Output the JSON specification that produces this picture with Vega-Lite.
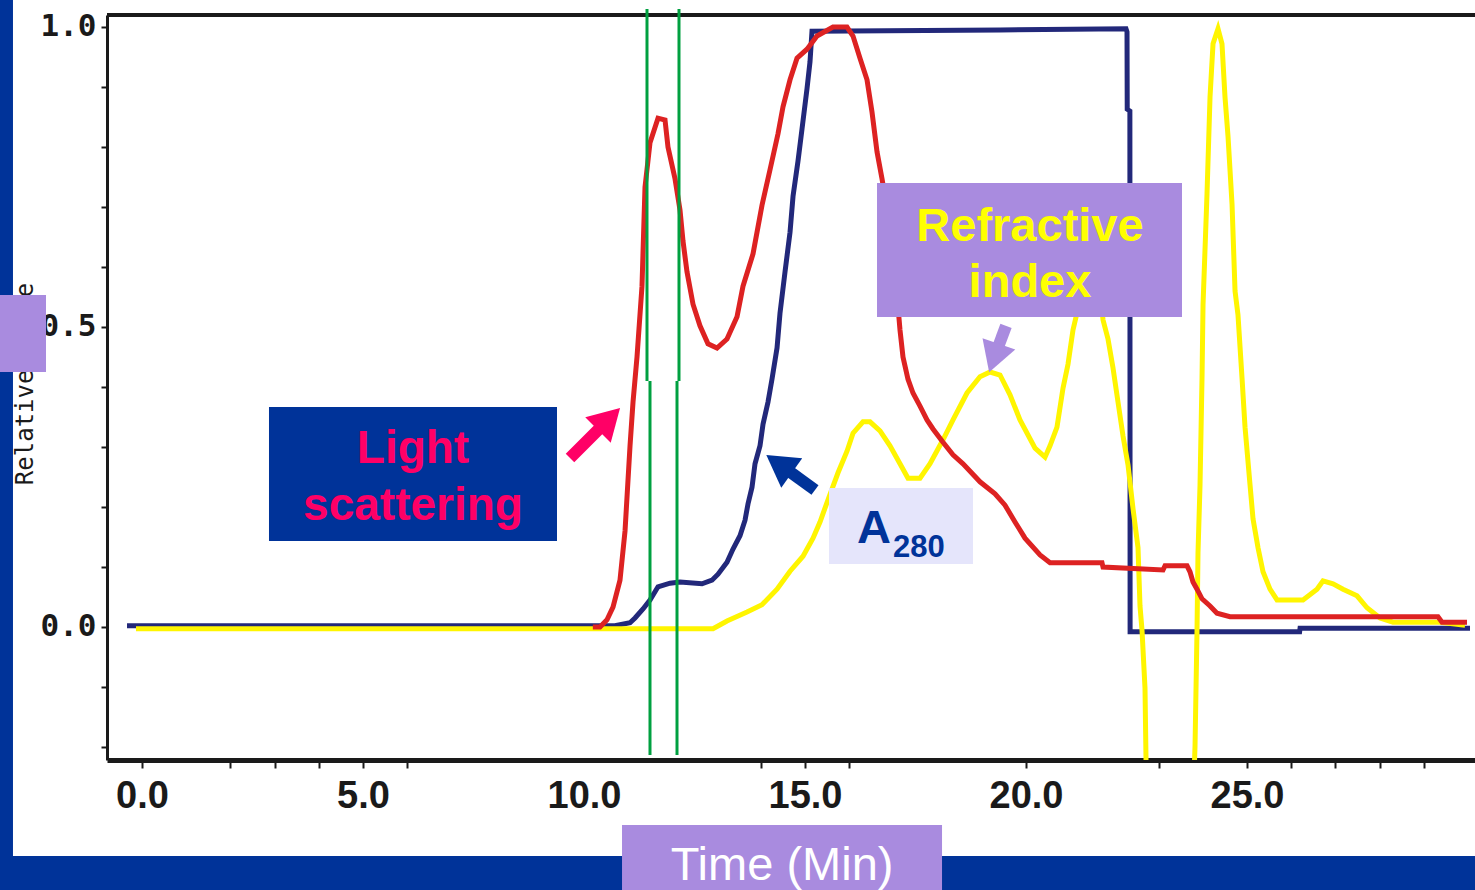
{
  "$schema": "https://vega.github.io/schema/vega-lite/v6.json",
  "width": 1368,
  "height": 745,
  "autosize": {"type": "none"},
  "padding": {"left": 107, "top": 15, "right": 0, "bottom": 130},
  "background": "white",
  "config": {"view": {"stroke": null}},
  "resolve": {"scale": {"color": "independent"}},
  "datasets": {
    "red": [
      {"t": 10.2, "v": 0}, {"t": 10.362, "v": 0}, {"t": 10.52, "v": 0.012}, {"t": 10.656, "v": 0.033}, {"t": 10.814, "v": 0.078},
      {"t": 10.928, "v": 0.16}, {"t": 11.041, "v": 0.302}, {"t": 11.109, "v": 0.375}, {"t": 11.199, "v": 0.45}, {"t": 11.312, "v": 0.568},
      {"t": 11.38, "v": 0.733}, {"t": 11.493, "v": 0.807}, {"t": 11.674, "v": 0.848}, {"t": 11.833, "v": 0.845}, {"t": 11.9, "v": 0.8},
      {"t": 12.059, "v": 0.747}, {"t": 12.172, "v": 0.695}, {"t": 12.24, "v": 0.643}, {"t": 12.33, "v": 0.592}, {"t": 12.466, "v": 0.538},
      {"t": 12.624, "v": 0.502}, {"t": 12.805, "v": 0.472}, {"t": 13.009, "v": 0.465}, {"t": 13.235, "v": 0.48}, {"t": 13.462, "v": 0.517},
      {"t": 13.597, "v": 0.568}, {"t": 13.824, "v": 0.622}, {"t": 14.027, "v": 0.703}, {"t": 14.208, "v": 0.762}, {"t": 14.389, "v": 0.822},
      {"t": 14.502, "v": 0.867}, {"t": 14.661, "v": 0.912}, {"t": 14.819, "v": 0.948}, {"t": 15.045, "v": 0.963}, {"t": 15.271, "v": 0.985},
      {"t": 15.633, "v": 1.0}, {"t": 15.95, "v": 1.0}, {"t": 16.086, "v": 0.985}, {"t": 16.244, "v": 0.948}, {"t": 16.403, "v": 0.912},
      {"t": 16.516, "v": 0.858}, {"t": 16.629, "v": 0.792}, {"t": 16.742, "v": 0.747}, {"t": 16.878, "v": 0.687}, {"t": 17.014, "v": 0.612},
      {"t": 17.149, "v": 0.495}, {"t": 17.217, "v": 0.45}, {"t": 17.33, "v": 0.413}, {"t": 17.443, "v": 0.39}, {"t": 17.602, "v": 0.368},
      {"t": 17.76, "v": 0.345}, {"t": 17.896, "v": 0.33}, {"t": 18.122, "v": 0.308}, {"t": 18.348, "v": 0.287}, {"t": 18.575, "v": 0.272},
      {"t": 18.959, "v": 0.242}, {"t": 19.299, "v": 0.222}, {"t": 19.525, "v": 0.203}, {"t": 19.751, "v": 0.175}, {"t": 19.977, "v": 0.148},
      {"t": 20.317, "v": 0.12}, {"t": 20.543, "v": 0.107}, {"t": 21.719, "v": 0.107}, {"t": 21.742, "v": 0.1}, {"t": 23.1, "v": 0.095},
      {"t": 23.145, "v": 0.102}, {"t": 23.643, "v": 0.102}, {"t": 23.71, "v": 0.092}, {"t": 23.778, "v": 0.075}, {"t": 23.869, "v": 0.063},
      {"t": 23.982, "v": 0.047}, {"t": 24.163, "v": 0.035}, {"t": 24.321, "v": 0.023}, {"t": 24.615, "v": 0.017}, {"t": 29.321, "v": 0.017},
      {"t": 29.412, "v": 0.008}, {"t": 29.977, "v": 0.008}
    ],
    "blue": [
      {"t": -0.339, "v": 0.002}, {"t": 10.7, "v": 0.002}, {"t": 11.041, "v": 0.007}, {"t": 11.154, "v": 0.015}, {"t": 11.335, "v": 0.03},
      {"t": 11.493, "v": 0.045}, {"t": 11.674, "v": 0.067}, {"t": 11.946, "v": 0.073}, {"t": 12.172, "v": 0.075}, {"t": 12.67, "v": 0.072},
      {"t": 12.896, "v": 0.078}, {"t": 13.032, "v": 0.088}, {"t": 13.235, "v": 0.108}, {"t": 13.371, "v": 0.13}, {"t": 13.529, "v": 0.152},
      {"t": 13.643, "v": 0.178}, {"t": 13.71, "v": 0.205}, {"t": 13.801, "v": 0.233}, {"t": 13.869, "v": 0.272}, {"t": 13.982, "v": 0.302},
      {"t": 14.05, "v": 0.338}, {"t": 14.163, "v": 0.375}, {"t": 14.253, "v": 0.413}, {"t": 14.367, "v": 0.465}, {"t": 14.434, "v": 0.523},
      {"t": 14.548, "v": 0.592}, {"t": 14.661, "v": 0.658}, {"t": 14.729, "v": 0.718}, {"t": 14.842, "v": 0.777}, {"t": 14.932, "v": 0.83},
      {"t": 15.045, "v": 0.897}, {"t": 15.113, "v": 0.942}, {"t": 15.158, "v": 0.993}, {"t": 19.412, "v": 0.995}, {"t": 22.262, "v": 0.997},
      {"t": 22.285, "v": 0.992}, {"t": 22.29, "v": 0.863}, {"t": 22.35, "v": 0.86}, {"t": 22.355, "v": -0.008}, {"t": 26.19, "v": -0.008},
      {"t": 26.2, "v": -0.002}, {"t": 30.045, "v": -0.002}
    ],
    "yellow": [
      {"t": -0.136, "v": -0.003}, {"t": 12.919, "v": -0.003}, {"t": 13.235, "v": 0.01}, {"t": 13.688, "v": 0.025}, {"t": 14.027, "v": 0.037},
      {"t": 14.367, "v": 0.063}, {"t": 14.661, "v": 0.093}, {"t": 14.955, "v": 0.118}, {"t": 15.181, "v": 0.148}, {"t": 15.339, "v": 0.175},
      {"t": 15.52, "v": 0.212}, {"t": 15.747, "v": 0.257}, {"t": 15.95, "v": 0.293}, {"t": 16.086, "v": 0.323}, {"t": 16.312, "v": 0.342},
      {"t": 16.471, "v": 0.342}, {"t": 16.697, "v": 0.327}, {"t": 16.923, "v": 0.302}, {"t": 17.149, "v": 0.272}, {"t": 17.33, "v": 0.248},
      {"t": 17.602, "v": 0.248}, {"t": 17.828, "v": 0.272}, {"t": 18.122, "v": 0.312}, {"t": 18.348, "v": 0.345}, {"t": 18.665, "v": 0.39},
      {"t": 18.959, "v": 0.417}, {"t": 19.186, "v": 0.425}, {"t": 19.412, "v": 0.42}, {"t": 19.638, "v": 0.387}, {"t": 19.864, "v": 0.345},
      {"t": 20.204, "v": 0.298}, {"t": 20.43, "v": 0.283}, {"t": 20.543, "v": 0.302}, {"t": 20.701, "v": 0.333}, {"t": 20.837, "v": 0.398},
      {"t": 20.95, "v": 0.438}, {"t": 21.063, "v": 0.495}, {"t": 21.222, "v": 0.545}, {"t": 21.403, "v": 0.587}, {"t": 21.561, "v": 0.595},
      {"t": 21.674, "v": 0.562}, {"t": 21.742, "v": 0.512}, {"t": 21.855, "v": 0.48}, {"t": 21.968, "v": 0.432}, {"t": 22.081, "v": 0.375},
      {"t": 22.195, "v": 0.318}, {"t": 22.308, "v": 0.27}, {"t": 22.421, "v": 0.197}, {"t": 22.534, "v": 0.132}, {"t": 22.579, "v": 0.035},
      {"t": 22.624, "v": -0.005}, {"t": 22.692, "v": -0.102}, {"t": 22.715, "v": -0.222}, {"t": 22.805, "v": -0.455}, {"t": 23.71, "v": -0.455},
      {"t": 23.824, "v": -0.198}, {"t": 23.869, "v": -0.005}, {"t": 23.891, "v": 0.123}, {"t": 23.937, "v": 0.237}, {"t": 23.982, "v": 0.415},
      {"t": 24.005, "v": 0.537}, {"t": 24.095, "v": 0.722}, {"t": 24.163, "v": 0.883}, {"t": 24.231, "v": 0.972}, {"t": 24.344, "v": 0.997},
      {"t": 24.434, "v": 0.972}, {"t": 24.502, "v": 0.883}, {"t": 24.57, "v": 0.818}, {"t": 24.661, "v": 0.705}, {"t": 24.729, "v": 0.56},
      {"t": 24.796, "v": 0.52}, {"t": 24.887, "v": 0.415}, {"t": 24.955, "v": 0.333}, {"t": 25.068, "v": 0.237}, {"t": 25.136, "v": 0.18},
      {"t": 25.249, "v": 0.132}, {"t": 25.362, "v": 0.092}, {"t": 25.52, "v": 0.063}, {"t": 25.679, "v": 0.045}, {"t": 26.267, "v": 0.045},
      {"t": 26.584, "v": 0.063}, {"t": 26.719, "v": 0.077}, {"t": 26.946, "v": 0.072}, {"t": 27.172, "v": 0.063}, {"t": 27.489, "v": 0.052},
      {"t": 27.715, "v": 0.032}, {"t": 28.009, "v": 0.015}, {"t": 28.303, "v": 0.008}, {"t": 29.367, "v": 0.008}, {"t": 29.932, "v": 0.003}
    ],
    "green": [
      {"t": 11.425, "v": 1.03, "v2": 0.41},
      {"t": 12.149, "v": 1.03, "v2": 0.41},
      {"t": 11.493, "v": 0.41, "v2": -0.2133},
      {"t": 12.104, "v": 0.41, "v2": -0.2133}
    ],
    "boxes": [
      {"name": "leftstrip", "t": -3.5, "t2": -2.919, "v": 1.1, "v2": -0.5},
      {"name": "bottomstrip", "t": -3.5, "t2": 31, "v": -0.3817, "v2": -0.5},
      {"name": "ls", "t": 2.873, "t2": 9.389, "v": 0.3667, "v2": 0.1433},
      {"name": "a280", "t": 15.543, "t2": 18.801, "v": 0.2317, "v2": 0.105},
      {"name": "ri", "t": 16.629, "t2": 23.529, "v": 0.74, "v2": 0.5167},
      {"name": "ycover", "t": -3.213, "t2": -2.172, "v": 0.5533, "v2": 0.425},
      {"name": "xtitle", "t": 10.86, "t2": 18.1, "v": -0.33, "v2": -0.5}
    ],
    "arrows": [
      {"name": "ls", "t": 9.683, "v": 0.2817, "t2": 10.566, "v2": 0.3467},
      {"name": "a280", "t": 15.226, "v": 0.2283, "t2": 14.412, "v2": 0.2717},
      {"name": "ri", "t": 19.548, "v": 0.5017, "t2": 19.276, "v2": 0.4483}
    ]
  },
  "encoding": {
    "x": {
      "field": "t", "type": "quantitative",
      "scale": {"domain": [-0.7919, 30.158], "nice": false, "zero": false},
      "axis": {
        "title": null, "grid": false,
        "values": [0, 2, 3, 4, 5, 6, 10, 14, 15, 16, 20, 23, 25, 26, 27, 28, 29],
        "labelExpr": "datum.value % 5 === 0 ? format(datum.value, '.1f') : ''",
        "domainColor": "#1a1a1a", "domainWidth": 5,
        "tickColor": "#1a1a1a", "tickWidth": 2, "tickSize": 8,
        "tickOpacity": {"condition": {"test": "datum.value === 10", "value": 0}, "value": 1},
        "labelFont": "Liberation Sans", "labelFontSize": 38, "labelFontWeight": "bold",
        "labelColor": "#1a1a1a", "labelPadding": 9, "labelBaseline": "top",
        "labelFlush": false, "labelOverlap": false
      }
    },
    "y": {
      "field": "v", "type": "quantitative",
      "scale": {"domain": [-0.2217, 1.02], "nice": false, "zero": false},
      "axis": {
        "title": null, "grid": false,
        "values": [-0.2, -0.1, 0, 0.1, 0.2, 0.3, 0.4, 0.5, 0.6, 0.7, 0.8, 0.9, 1],
        "labelExpr": "(datum.value === 0 || datum.value === 0.5 || datum.value === 1) ? format(datum.value, '.1f') : ''",
        "domainColor": "#1a1a1a", "domainWidth": 3,
        "tickColor": "#1a1a1a", "tickWidth": 2, "tickSize": 6,
        "labelFont": "DejaVu Sans Mono", "labelFontSize": 31, "labelFontWeight": "bold",
        "labelColor": "#1a1a1a", "labelPadding": 5, "labelBaseline": "middle",
        "labelFlush": false, "labelOverlap": false
      }
    }
  },
  "layer": [
    {
      "data": {"values": [{"t": -0.7919, "t2": 30.158, "v": 1.02}]},
      "mark": {"type": "rule", "color": "#1a1a1a", "strokeWidth": 4, "clip": false},
      "encoding": {"x2": {"field": "t2"}}
    },
    {
      "data": {"name": "blue"},
      "mark": {"type": "line", "color": "#22287A", "strokeWidth": 5, "clip": true, "interpolate": "linear"},
      "encoding": {"order": {"value": null}}
    },
    {
      "data": {"name": "yellow"},
      "mark": {"type": "line", "color": "#FFF500", "strokeWidth": 5, "clip": true, "interpolate": "linear"},
      "encoding": {"order": {"value": null}}
    },
    {
      "data": {"name": "red"},
      "mark": {"type": "line", "color": "#DD2222", "strokeWidth": 5, "clip": true, "interpolate": "linear"},
      "encoding": {"order": {"value": null}}
    },
    {
      "data": {"name": "green"},
      "mark": {"type": "rule", "color": "#00A040", "strokeWidth": 3, "clip": false},
      "encoding": {"y2": {"field": "v2"}}
    },
    {
      "data": {"values": [{"t": -2.466, "v": 0.405, "label": "Relative Scale"}]},
      "mark": {"type": "text", "font": "DejaVu Sans Mono", "fontSize": 24, "color": "#1a1a1a", "angle": 270, "align": "center", "baseline": "alphabetic", "clip": false},
      "encoding": {"text": {"field": "label"}}
    },
    {
      "data": {"name": "boxes"},
      "mark": {"type": "rect", "clip": false, "opacity": 1},
      "encoding": {
        "x2": {"field": "t2"},
        "y2": {"field": "v2"},
        "color": {
          "field": "name", "type": "nominal", "legend": null,
          "scale": {
            "domain": ["leftstrip", "bottomstrip", "ls", "a280", "ri", "ycover", "xtitle"],
            "range": ["#003399", "#003399", "#003399", "#E5E5FB", "#A98BDF", "#A98BDF", "#A98BDF"]
          }
        }
      }
    },
    {
      "data": {"values": [{"t": 6.131, "v": 0.2733, "label": "Light"}, {"t": 6.131, "v": 0.1783, "label": "scattering"}]},
      "mark": {"type": "text", "font": "Liberation Sans", "fontWeight": "bold", "fontSize": 46, "color": "#FF0066", "align": "center", "baseline": "alphabetic", "clip": false},
      "encoding": {"text": {"field": "label"}}
    },
    {
      "data": {"values": [{"t": 20.09, "v": 0.6433, "label": "Refractive"}, {"t": 20.09, "v": 0.55, "label": "index"}]},
      "mark": {"type": "text", "font": "Liberation Sans", "fontWeight": "bold", "fontSize": 47, "color": "#FFFF00", "align": "center", "baseline": "alphabetic", "clip": false},
      "encoding": {"text": {"field": "label"}}
    },
    {
      "data": {"values": [{"t": 16.561, "v": 0.14, "label": "A"}]},
      "mark": {"type": "text", "font": "Liberation Sans", "fontWeight": "bold", "fontSize": 47, "color": "#003399", "align": "center", "baseline": "alphabetic", "clip": false},
      "encoding": {"text": {"field": "label"}}
    },
    {
      "data": {"values": [{"t": 16.991, "v": 0.1167, "label": "280"}]},
      "mark": {"type": "text", "font": "Liberation Sans", "fontWeight": "bold", "fontSize": 31, "color": "#003399", "align": "left", "baseline": "alphabetic", "clip": false},
      "encoding": {"text": {"field": "label"}}
    },
    {
      "data": {"values": [{"t": 14.48, "v": -0.4217, "label": "Time (Min)"}]},
      "mark": {"type": "text", "font": "Liberation Sans", "fontSize": 47, "color": "#FFFFFF", "align": "center", "baseline": "alphabetic", "clip": false},
      "encoding": {"text": {"field": "label"}}
    },
    {
      "data": {"name": "arrows"},
      "mark": {"type": "rule", "strokeWidth": 12, "strokeCap": "butt", "clip": false},
      "encoding": {
        "x2": {"field": "t2"},
        "y2": {"field": "v2"},
        "color": {
          "field": "name", "type": "nominal", "legend": null,
          "scale": {"domain": ["ls", "a280", "ri"], "range": ["#FF0066", "#003399", "#A98BDF"]}
        }
      }
    },
    {
      "data": {"values": [{"t": 10.566, "v": 0.3467}]},
      "mark": {"type": "point", "shape": "triangle-up", "filled": true, "size": 1300, "angle": 45, "color": "#FF0066", "opacity": 1, "clip": false}
    },
    {
      "data": {"values": [{"t": 14.412, "v": 0.2717}]},
      "mark": {"type": "point", "shape": "triangle-up", "filled": true, "size": 1300, "angle": 305.5, "color": "#003399", "opacity": 1, "clip": false}
    },
    {
      "data": {"values": [{"t": 19.276, "v": 0.4483}]},
      "mark": {"type": "point", "shape": "triangle-up", "filled": true, "size": 1200, "angle": 199, "color": "#A98BDF", "opacity": 1, "clip": false}
    }
  ]
}
